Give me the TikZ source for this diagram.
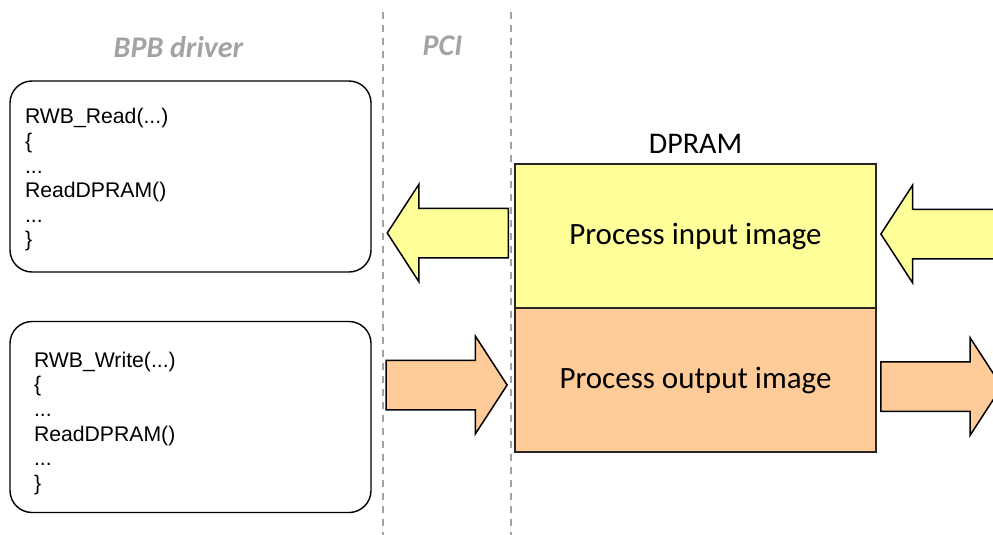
\documentclass[tikz,border=0pt]{standalone}
\usepackage{fontspec}
\setmainfont{Carlito}
\newfontfamily\codefont{Liberation Sans}
\usepackage{xcolor}
\usepackage{tikz}
\usetikzlibrary{shapes.arrows,positioning}
\definecolor{inyellow}{HTML}{FFFF99}
\definecolor{outorange}{HTML}{FFCC99}
\definecolor{layergray}{HTML}{A3A3A3}
\tikzset{
  codebox/.style={
    rectangle, rounded corners=22pt, draw=black, line width=1.4pt,
    minimum width=361pt, minimum height=191pt
  },
  codetext/.style={
    anchor=north west, inner sep=0pt, align=left,
    font=\codefont\fontsize{21.2}{24.6}\selectfont
  },
  membox/.style={
    rectangle, draw=black!85, line width=1.2pt, fill=#1,
    minimum width=361pt, minimum height=144pt, outer sep=0pt,
    font=\fontsize{31}{37}\selectfont
  },
  blockarr/.style={
    single arrow, draw=black, line width=1.5pt, fill=#1,
    inner sep=0pt, inner ysep=24pt, minimum height=121pt,
    single arrow head extend=24pt, single arrow tip angle=114
  },
  layerlbl/.style={font=\fontsize{30}{36}\selectfont\bfseries\itshape, text=layergray},
  memlbl/.style={font=\fontsize{30}{36}\selectfont},
  sepline/.style={dash pattern=on 7pt off 6pt, line width=2pt, layergray}
}

\begin{document}
\begin{tikzpicture}[x=1pt,y=-1pt]
\path[use as bounding box, clip] (0,0) rectangle (993,535);

% Layers
\coordinate (sepA) at (382.5,12);
\coordinate (sepB) at (510.5,12);
\draw[sepline] (sepA) -- (sepA |- 0,535);
\draw[sepline] (sepB) -- (sepB |- 0,535);

\node[layerlbl] (drv) at (178.5,47.5) {BPB driver};
\node[layerlbl] (pci) at (442.5,46) {PCI};

% Driver code
\node[codebox] (rdbox) at (190.5,176.5) {};
\node[codetext] (rdcode) at ([xshift=15.5pt,yshift=-28pt]rdbox.north west)
  {RWB\_Read(...)\\\{\\...\\ReadDPRAM()\\...\\\}};
\node[codebox] (wrbox) at (190.5,417) {};
\node[codetext] (wrcode) at ([xshift=24.5pt,yshift=-31pt]wrbox.north west)
  {RWB\_Write(...)\\\{\\...\\ReadDPRAM()\\...\\\}};

% DPRAM
\node[membox=inyellow] (pii) at (695.5,236) {Process input image};
\node[membox=outorange, below=0pt of pii] (poi) {Process output image};
\node[memlbl, above=7pt of pii] (dpram) {DPRAM};

% Block arrows
\node[blockarr=inyellow, shape border rotate=180, anchor=tail]
  (rdarr) at ([xshift=-6pt,yshift=3pt]pii.west) {};
\node[blockarr=outorange, anchor=tip]
  (wrarr) at ([xshift=-7pt,yshift=-5pt]poi.west) {};
\node[blockarr=inyellow, shape border rotate=180, anchor=tip]
  (inarr) at ([xshift=4pt,yshift=2pt]pii.east) {};
\node[blockarr=outorange, anchor=tail]
  (outarr) at ([xshift=4pt,yshift=-6.5pt]poi.east) {};

\end{tikzpicture}
\end{document}
